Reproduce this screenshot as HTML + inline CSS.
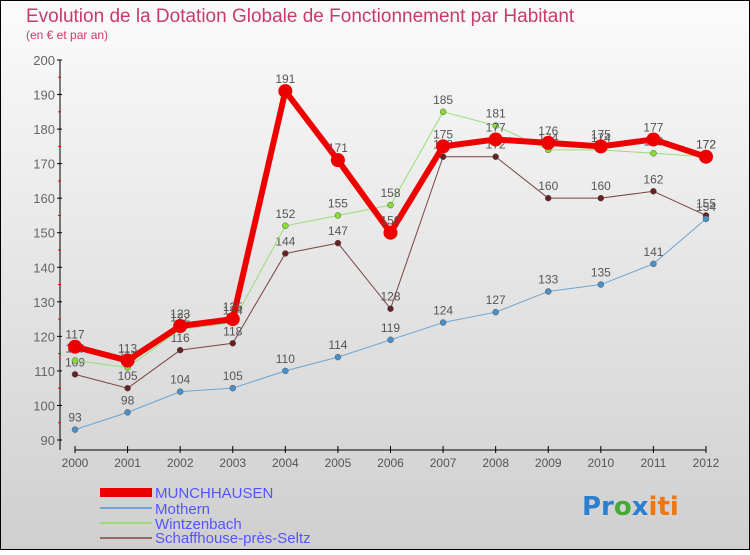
<!DOCTYPE html>
<html><head><meta charset="utf-8"><style>
body{margin:0;width:750px;height:550px;overflow:hidden;font-family:"Liberation Sans",sans-serif}
</style></head><body>
<svg width="750" height="550" viewBox="0 0 750 550">
<defs><linearGradient id="bg" x1="0" y1="0" x2="0" y2="1"><stop offset="0" stop-color="#fbfbfb"/><stop offset="1" stop-color="#cfcfcf"/></linearGradient></defs>
<rect x="0.5" y="0.5" width="749" height="549" fill="url(#bg)" stroke="#000"/>
<text x="26" y="22" font-size="19" fill="#c83a6c">Evolution de la Dotation Globale de Fonctionnement par Habitant</text>
<text x="26" y="39" font-size="12" fill="#c83a6c">(en € et par an)</text>
<g id="axes"></g><g id="series"></g>
<g>
<rect x="100" y="488" width="52" height="9" fill="#e00"/>
<text x="155" y="498" font-size="15" fill="#5555ff">MUNCHHAUSEN</text>
<line x1="100" y1="508" x2="152" y2="508" stroke="#6aa5d5" stroke-width="2"/>
<text x="155" y="514" font-size="15" fill="#5555ff">Mothern</text>
<line x1="100" y1="523" x2="152" y2="523" stroke="#99dd77" stroke-width="2"/>
<text x="155" y="529" font-size="15" fill="#5555ff">Wintzenbach</text>
<line x1="100" y1="538" x2="152" y2="538" stroke="#996666" stroke-width="2"/>
<text x="155" y="543" font-size="15" fill="#5555ff">Schaffhouse-près-Seltz</text>
</g>
<g font-size="26" font-weight="bold" font-family="'DejaVu Sans',sans-serif">
<text x="582" y="515"><tspan fill="#2a7fd0">Pr</tspan><tspan fill="#44aa33">o</tspan><tspan fill="#2a7fd0">x</tspan><tspan fill="#ee7711">iti</tspan></text>
</g>
</svg>
<script>
const years=[2000,2001,2002,2003,2004,2005,2006,2007,2008,2009,2010,2011,2012];
const munch=[117,113,123,125,191,171,150,175,177,176,175,177,172];
const mothern=[93,98,104,105,110,114,119,124,127,133,135,141,154];
const wintz=[113,111,122,124,152,155,158,185,181,174,174,173,172];
const schaff=[109,105,116,118,144,147,128,172,172,160,160,162,155];
const yTicks=[90,100,110,120,130,140,150,160,170,180,190,200];
const NS='http://www.w3.org/2000/svg';
const X=i=>75+i*(706-75)/12;
const Y=v=>440-(v-90)*380/110;
function mk(t,a,p){const e=document.createElementNS(NS,t);for(const k in a)e.setAttribute(k,a[k]);p.appendChild(e);return e;}
const ax=document.getElementById('axes');
const ya=mk('line',{x1:60,y1:60,x2:60,y2:450,stroke:'#000','stroke-width':1},ax);


yTicks.forEach(v=>{
 mk('line',{x1:57,y1:Y(v),x2:62,y2:Y(v),stroke:'#000'},ax);
 if(v<200) mk('line',{x1:58,y1:Y(v+5),x2:61,y2:Y(v+5),stroke:'#f00'},ax);
 const t=mk('text',{x:55,y:Y(v)+5,'text-anchor':'end','font-size':13,fill:'#666'},ax);
 t.textContent=v;
 
 
});
const xa=mk('line',{x1:75,y1:450,x2:706,y2:450,stroke:'#000'},ax);


years.forEach((y,i)=>{
 mk('line',{x1:X(i),y1:446,x2:X(i),y2:453,stroke:'#000'},ax);
 const t=mk('text',{x:X(i),y:467,'text-anchor':'middle','font-size':12,fill:'#555'},ax);
 t.textContent=y;
 
 
});
const sg=document.getElementById('series');
function series(d,name,col,dot,w,r){
 const g=mk('g',{},sg);
 
 
 mk('polyline',{points:d.map((v,i)=>X(i)+','+Y(v)).join(' '),fill:'none',stroke:col,'stroke-width':w,'stroke-linejoin':'round'},g);
 d.forEach((v,i)=>{
  const c=mk('circle',{cx:X(i),cy:Y(v),r:r,fill:dot,stroke:w>3?'none':'#555','stroke-width':0.5},g);
  
  
  const t=mk('text',{x:X(i),y:Y(v)-8,'text-anchor':'middle','font-size':12,fill:'#555'},g);
  t.textContent=v;
  
  
 });
}
series(schaff,'series-schaffhouse','#774444','#662222',1,3);
series(mothern,'series-mothern','#6aa5d5','#4a90c8',1,3);
series(wintz,'series-wintzenbach','#99dd77','#88dd33',1,3);
series(munch,'series-munchhausen','#ee0000','#ee0000',6,7);
</script>
</body></html>
